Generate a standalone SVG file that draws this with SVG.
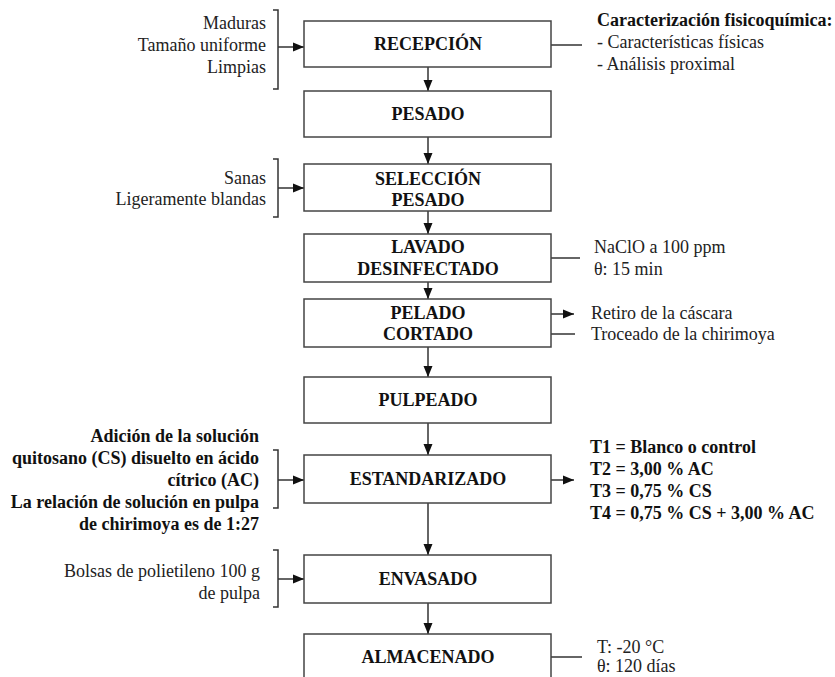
<svg xmlns="http://www.w3.org/2000/svg" width="835" height="677" viewBox="0 0 835 677">
<style>
.box{fill:#fff;stroke:#444;stroke-width:1.5}
.lbl{font-family:Liberation Serif,Times New Roman,serif;font-size:18px;font-weight:bold;fill:#111;text-anchor:middle}
.t{font-family:Liberation Serif,Times New Roman,serif;font-size:18px;fill:#222}
.b{font-weight:bold;fill:#111}
.r{text-anchor:end}
.ln{fill:none;stroke:#333;stroke-width:1.5}
</style>
<defs>
<marker id="ah" markerUnits="userSpaceOnUse" markerWidth="12" markerHeight="10" refX="11" refY="5" orient="auto">
<path d="M0,0.5 L11,5 L0,9.5 Z" fill="#111"/>
</marker>
</defs>
<rect width="835" height="677" fill="#fff"/>
<g id="connectors">
<path class="ln" d="M428,67 V91" marker-end="url(#ah)"/>
<path class="ln" d="M428,137 V164" marker-end="url(#ah)"/>
<path class="ln" d="M428,211 V234" marker-end="url(#ah)"/>
<path class="ln" d="M428,282 V299" marker-end="url(#ah)"/>
<path class="ln" d="M428,347 V377" marker-end="url(#ah)"/>
<path class="ln" d="M428,423 V455" marker-end="url(#ah)"/>
<path class="ln" d="M428,503 V555" marker-end="url(#ah)"/>
<path class="ln" d="M428,603 V634" marker-end="url(#ah)"/>
<path class="ln" d="M273,10 H278 V89 H273"/>
<path class="ln" d="M278,47 H304" marker-end="url(#ah)"/>
<path class="ln" d="M273,159 H278 V217 H273"/>
<path class="ln" d="M278,188 H304" marker-end="url(#ah)"/>
<path class="ln" d="M273,450 H278 V508 H273"/>
<path class="ln" d="M278,480 H304" marker-end="url(#ah)"/>
<path class="ln" d="M273,550 H278 V607 H273"/>
<path class="ln" d="M278,579 H304" marker-end="url(#ah)"/>
<path class="ln" d="M551,45 H582"/>
<path class="ln" d="M551,258 H580"/>
<path class="ln" d="M551,314 H574" marker-end="url(#ah)"/>
<path class="ln" d="M551,334 H575"/>
<path class="ln" d="M551,480 H574" marker-end="url(#ah)"/>
<path class="ln" d="M551,657 H582"/>
</g>
<g id="recepcion"><rect class="box" x="304" y="21" width="247" height="46"/><text class="lbl" x="428" y="50">RECEPCIÓN</text></g>
<g id="pesado"><rect class="box" x="304" y="91" width="247" height="46"/><text class="lbl" x="428" y="120">PESADO</text></g>
<g id="seleccion"><rect class="box" x="304" y="164" width="247" height="47"/><text class="lbl" x="428" y="185">SELECCIÓN</text><text class="lbl" x="428" y="206">PESADO</text></g>
<g id="lavado"><rect class="box" x="304" y="234" width="247" height="48"/><text class="lbl" x="428" y="253">LAVADO</text><text class="lbl" x="428" y="275">DESINFECTADO</text></g>
<g id="pelado"><rect class="box" x="304" y="299" width="247" height="48"/><text class="lbl" x="428" y="319">PELADO</text><text class="lbl" x="428" y="340">CORTADO</text></g>
<g id="pulpeado"><rect class="box" x="304" y="377" width="247" height="46"/><text class="lbl" x="428" y="406">PULPEADO</text></g>
<g id="estandarizado"><rect class="box" x="304" y="455" width="247" height="48"/><text class="lbl" x="428" y="485">ESTANDARIZADO</text></g>
<g id="envasado"><rect class="box" x="304" y="555" width="247" height="48"/><text class="lbl" x="428" y="585">ENVASADO</text></g>
<g id="almacenado"><rect class="box" x="304" y="634" width="247" height="48"/><text class="lbl" x="428" y="663">ALMACENADO</text></g>
<g id="notes">
<text class="t r" x="266" y="29">Maduras</text>
<text class="t r" x="266" y="51">Tamaño uniforme</text>
<text class="t r" x="266" y="73">Limpias</text>
<text class="t r" x="266" y="184">Sanas</text>
<text class="t r" x="266" y="205">Ligeramente blandas</text>
<text class="t b" x="597" y="26">Caracterización fisicoquímica:</text>
<text class="t" x="597" y="48">- Características físicas</text>
<text class="t" x="597" y="70">- Análisis proximal</text>
<text class="t" x="594" y="253">NaClO a 100 ppm</text>
<text class="t" x="594" y="275">θ: 15 min</text>
<text class="t" x="591" y="319">Retiro de la cáscara</text>
<text class="t" x="591" y="340">Troceado de la chirimoya</text>
<text class="t b r" x="259" y="442">Adición de la solución</text>
<text class="t b r" x="259" y="464">quitosano (CS) disuelto en ácido</text>
<text class="t b r" x="259" y="486">cítrico (AC)</text>
<text class="t b r" x="259" y="508">La relación de solución en pulpa</text>
<text class="t b r" x="259" y="530">de chirimoya es de 1:27</text>
<text class="t b" x="590" y="453">T1 = Blanco o control</text>
<text class="t b" x="590" y="475">T2 = 3,00 % AC</text>
<text class="t b" x="590" y="497">T3 = 0,75 % CS</text>
<text class="t b" x="590" y="519">T4 = 0,75 % CS + 3,00 % AC</text>
<text class="t r" x="260" y="577">Bolsas de polietileno 100 g</text>
<text class="t r" x="260" y="599">de pulpa</text>
<text class="t" x="597" y="653">T: -20 °C</text>
<text class="t" x="597" y="672">θ: 120 días</text>
</g>
</svg>
